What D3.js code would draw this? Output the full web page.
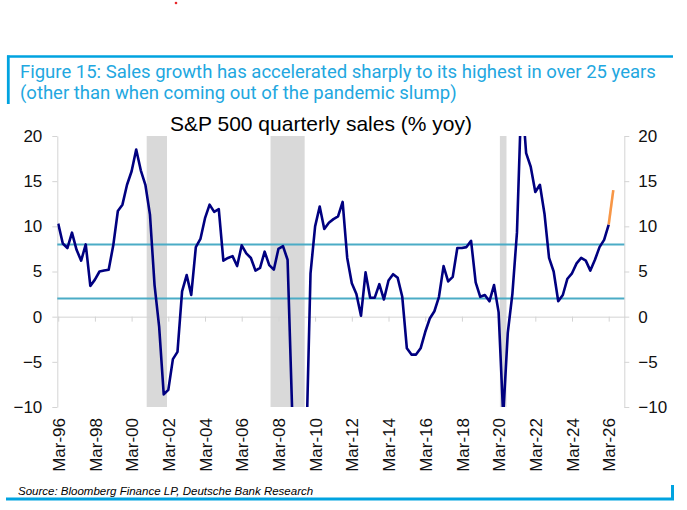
<!DOCTYPE html>
<html>
<head>
<meta charset="utf-8">
<script src="https://cdn.jsdelivr.net/npm/d3@7"></script>
<style>
  body { margin: 0; background: #fff; }
  svg { display: block; }
  .tick text { font-family: "Liberation Sans", Arial, sans-serif; font-size: 17px; fill: #111; }
</style>
</head>
<body>
<svg id="chart" width="687" height="510"></svg>
<script>
// quarterly yoy sales growth, first value is Mar-96
var firstYear = 1996;
var salesGrowth = [10.3, 8.1, 7.6, 9.3, 7.4, 6.2, 8.0, 3.4, 4.1, 5.0, 5.1, 5.2,
    7.9, 11.7, 12.4, 14.6, 16.1, 18.5, 16.2, 14.6, 11.3, 3.5, -1.1, -8.6,
    -8.1, -4.7, -3.9, 2.8, 4.6, 2.4, 7.7, 8.6, 10.9, 12.4, 11.6, 11.9,
    6.2, 6.5, 6.7, 5.6, 7.9, 7.0, 6.5, 5.1, 5.4, 7.2, 5.7, 5.2,
    7.5, 7.8, 6.3, -10.5, -15, -18, -16, 4.8, 10.0, 12.2, 9.7, 10.4,
    10.8, 11.1, 12.7, 6.5, 3.7, 2.5, 0.1, 4.9, 2.1, 2.1, 3.6, 1.9,
    4.0, 4.7, 4.3, 2.2, -3.5, -4.2, -4.2, -3.5, -1.7, -0.2, 0.6, 2.2,
    5.6, 3.9, 4.4, 7.6, 7.6, 7.7, 8.4, 3.8, 2.2, 2.4, 1.7, 3.5,
    0.5, -11, -1.8, 2.5, 9.3, 25, 18.1, 16.6, 13.8, 14.6, 11.4, 6.5,
    5.0, 1.7, 2.4, 4.2, 4.8, 5.9, 6.5, 6.2, 5.1, 6.3, 7.7, 8.5, 10.2];

// latest estimate, drawn in orange
var estQuarters = ["Mar-26", "Jun-26"];
var estGrowth = [10.2, 14.0];

var refLevels = [8, 2];
var recessions = [["Mar-01", "Dec-01"], ["Dec-07", "Jun-09"], ["Jun-20", "Jun-20"]];
var xTickLabels = ["Mar-96", "Mar-98", "Mar-00", "Mar-02", "Mar-04", "Mar-06", "Mar-08", "Mar-10",
    "Mar-12", "Mar-14", "Mar-16", "Mar-18", "Mar-20", "Mar-22", "Mar-24", "Mar-26"];
var yTicks = [-10, -5, 0, 5, 10, 15, 20];

var titleText = "S&P 500 quarterly sales (% yoy)";
var captionLines = ["Figure 15: Sales growth has accelerated sharply to its highest in over 25 years",
    "(other than when coming out of the pandemic slump)"];
var sourceText = "Source: Bloomberg Finance LP, Deutsche Bank Research";

// quarter labels Mar-96, Jun-96 ...
var months = ["Mar", "Jun", "Sep", "Dec"];
var quarters = [];
for (var q = 0; q < salesGrowth.length + estQuarters.length - 1; q++) {
    var yr = (firstYear + Math.floor(q / 4)) % 100;
    quarters.push(months[q % 4] + "-" + (yr < 10 ? "0" : "") + yr);
}
function qIdx(label) { return quarters.indexOf(label); }

var svg = d3.select("#chart");
var blue = "#00a3e0";
var plot = {left: 57.3, right: 624.3, top: 136, bottom: 407};

var x = d3.scaleLinear().domain([-0.2, 123.4]).range([plot.left, plot.right]);
var y = d3.scaleLinear().domain([-10, 20]).range([plot.bottom, plot.top]);
var step = x(1) - x(0);

// little red mark at the top
svg.append("circle").attr("cx", 176).attr("cy", 3).attr("r", 1.3).attr("fill", "#e8262b");

// caption box
svg.append("line").attr("x1", 7).attr("x2", 673).attr("y1", 56.5).attr("y2", 56.5)
    .attr("stroke", blue).attr("stroke-width", 2.5);
svg.append("line").attr("x1", 8.3).attr("x2", 8.3).attr("y1", 55.5).attr("y2", 104)
    .attr("stroke", blue).attr("stroke-width", 2.8);
svg.selectAll(".caption").data(captionLines).enter().append("text")
    .attr("class", "caption")
    .attr("x", 20)
    .attr("y", function(d, i) { return 77.5 + i * 21; })
    .attr("font-family", "Roboto, sans-serif")
    .attr("font-size", 18.5)
    .attr("fill", "#22a7e0")
    .text(function(d) { return d; });

svg.append("text").attr("x", 170).attr("y", 130.5)
    .attr("font-family", "Liberation Sans, Arial, sans-serif")
    .attr("font-size", 21).attr("fill", "#000")
    .text(titleText);

svg.append("clipPath").attr("id", "plotclip")
    .append("rect")
    .attr("x", plot.left).attr("y", plot.top)
    .attr("width", plot.right - plot.left).attr("height", plot.bottom - plot.top);

// recession shading
svg.append("g").selectAll("rect").data(recessions).enter().append("rect")
    .attr("x", function(d) { return x(qIdx(d[0])) - step / 2 - 1; })
    .attr("width", function(d) { return x(qIdx(d[1])) - x(qIdx(d[0])) + step + 2; })
    .attr("y", y(20))
    .attr("height", y(-10) - y(20))
    .attr("fill", "#d9d9d9");

// y axes
var axisGrey = "#d4d4d4";
var yl = svg.append("g").attr("transform", "translate(" + plot.left + ",0)")
    .call(d3.axisLeft(y).tickValues(yTicks).tickSize(5).tickSizeOuter(0).tickPadding(10).tickFormat(d3.format("d")));
var yr2 = svg.append("g").attr("transform", "translate(" + plot.right + ",0)")
    .call(d3.axisRight(y).tickValues(yTicks).tickSize(5).tickSizeOuter(0).tickPadding(9).tickFormat(d3.format("d")));
[yl, yr2].forEach(function(g) {
    g.select(".domain").attr("stroke", axisGrey);
    g.selectAll(".tick line").attr("stroke", axisGrey);
});

// category axis crossing at zero
var tickIdx = xTickLabels.map(qIdx);
var xz = svg.append("g").attr("transform", "translate(0," + y(0) + ")")
    .call(d3.axisBottom(x).tickValues(tickIdx).tickSize(5).tickSizeOuter(0).tickFormat(""));
xz.select(".domain").attr("stroke", axisGrey);
xz.selectAll(".tick line").attr("stroke", axisGrey);

// category labels at the bottom
var xl = svg.append("g").attr("transform", "translate(0," + plot.bottom + ")")
    .call(d3.axisBottom(x).tickValues(tickIdx).tickSize(0)
        .tickFormat(function(i) { return quarters[i]; }));
xl.select(".domain").remove();
xl.selectAll(".tick text")
    .attr("transform", "rotate(-90)")
    .attr("text-anchor", "end")
    .attr("x", -11)
    .attr("y", 0)
    .attr("dy", "0.36em");

// reference levels
svg.append("g").selectAll("line").data(refLevels).enter().append("line")
    .attr("x1", plot.left).attr("x2", plot.right)
    .attr("y1", function(d) { return y(d); })
    .attr("y2", function(d) { return y(d); })
    .attr("stroke", "#4bacc6").attr("stroke-width", 2);

var line = d3.line()
    .x(function(d) { return x(d[0]); })
    .y(function(d) { return y(d[1]); });

svg.append("path")
    .datum(salesGrowth.map(function(v, i) { return [i, v]; }))
    .attr("clip-path", "url(#plotclip)")
    .attr("fill", "none")
    .attr("stroke", "#000080")
    .attr("stroke-width", 2.6)
    .attr("stroke-linejoin", "round")
    .attr("d", line);

svg.append("path")
    .datum(estGrowth.map(function(v, i) { return [qIdx(estQuarters[i]), v]; }))
    .attr("clip-path", "url(#plotclip)")
    .attr("fill", "none")
    .attr("stroke", "#f79646")
    .attr("stroke-width", 2.6)
    .attr("d", line);

// source + bottom frame
svg.append("text").attr("x", 18).attr("y", 495)
    .attr("font-family", "Liberation Sans, Arial, sans-serif")
    .attr("font-size", 11.5).attr("font-style", "italic").attr("fill", "#000")
    .text(sourceText);
svg.append("line").attr("x1", 6).attr("x2", 674).attr("y1", 499).attr("y2", 499)
    .attr("stroke", blue).attr("stroke-width", 3);
svg.append("line").attr("x1", 672.5).attr("x2", 672.5).attr("y1", 485).attr("y2", 500)
    .attr("stroke", blue).attr("stroke-width", 3);
</script>
</body>
</html>
